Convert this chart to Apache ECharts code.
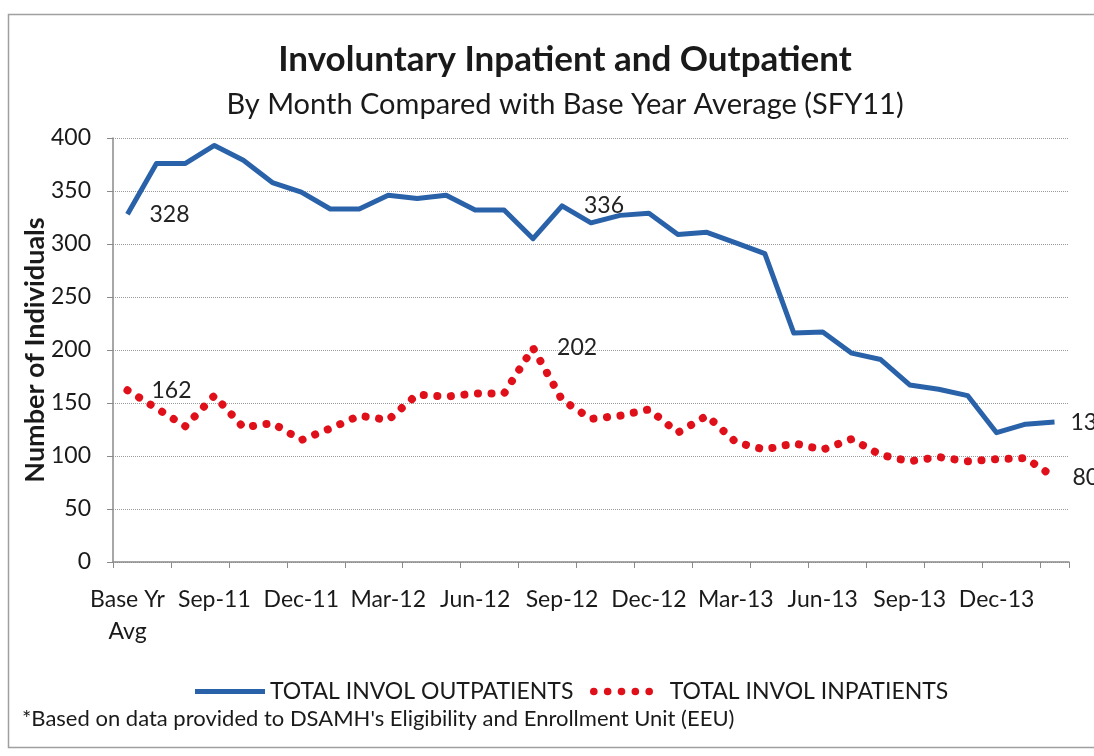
<!DOCTYPE html>
<html>
<head>
<meta charset="utf-8">
<script src="https://cdn.jsdelivr.net/npm/echarts@6/dist/echarts.min.js"></script>
<style>
html,body{margin:0;padding:0;background:#fff;}
#chart{width:1094px;height:756px;}
</style>
</head>
<body>
<div id="chart"></div>
<script>
var categories = ["Base Yr\nAvg",
  "Jul-11","Aug-11","Sep-11","Oct-11","Nov-11","Dec-11",
  "Jan-12","Feb-12","Mar-12","Apr-12","May-12","Jun-12",
  "Jul-12","Aug-12","Sep-12","Oct-12","Nov-12","Dec-12",
  "Jan-13","Feb-13","Mar-13","Apr-13","May-13","Jun-13",
  "Jul-13","Aug-13","Sep-13","Oct-13","Nov-13","Dec-13",
  "Jan-14","Feb-14"];
var outpatients = [328,376,376,393,379,358,349,333,333,346,343,346,332,332,305,336,320,327,329,309,311,301,291,216,217,197,191,167,163,157,122,130,132];
var inpatients = [162,145,128,157,127,131,115,126,138,134,158,156,159,159,202,153,135,138,144,122,138,113,106,112,106,116,101,95,99,95,97,98,80];
var outLabelIdx = [0,15,32];
var inLabelIdx = [0,14,32];
var yTicks = {min:0, max:400, interval:50};

var FONT = 'Lato, "Open Sans", sans-serif';
var BLUE = '#2A62AA', RED = '#E0101A';

function labelPoints(arr, idxs, dist){
  return {
    symbol:'circle', symbolSize:0, silent:true,
    label:{show:true, position:'right', distance:dist, fontSize:23, color:'#222', fontFamily:FONT,
           formatter:function(p){ return p.value; }},
    data: idxs.map(function(i){
      var d = {coord:[i, arr[i]], value:arr[i]};
      if (i === arr.length - 1) d.label = {distance:dist - 6};
      return d;
    })
  };
}

// legend icons
var blueIcon = 'path://M0,0 L70,0 L70,5 L0,5 Z';
var dots = '';
for (var k=0;k<5;k++){ var cx = 4 + k*14.5; dots += 'M'+(cx-4)+',4 a4,4 0 1,0 8,0 a4,4 0 1,0 -8,0 '; }
var redIcon = 'path://' + dots;
var legendText = {fontFamily:FONT, fontSize:23, color:'#1a1a1a'};

var chart = echarts.init(document.getElementById('chart'), null, {renderer:'canvas'});
chart.setOption({
  animation:false,
  backgroundColor:'#fff',
  title:[
    {text:'Involuntary Inpatient and Outpatient', left:560, top:37, textAlign:'center',
     textStyle:{fontFamily:FONT, fontSize:35, fontWeight:'bold', color:'#1a1a1a'}},
    {text:'By Month Compared with Base Year Average (SFY11)', left:560, top:85, textAlign:'center',
     textStyle:{fontFamily:FONT, fontSize:29, fontWeight:'normal', color:'#1a1a1a'}}
  ],
  graphic:[
    {type:'rect', shape:{x:8.5, y:14.5, width:1100, height:733}, style:{fill:'none', stroke:'#a0a0a0', lineWidth:1.5}, silent:true},
    {type:'text', left:22, top:708, style:{text:"*Based on data provided to DSAMH's Eligibility and Enrollment Unit (EEU)", fontFamily:FONT, fontSize:22, fill:'#1a1a1a'}}
  ],
  legend:[
    {top:675, left:190, padding:[5,5,5,5], itemWidth:70, itemHeight:5,
     textStyle:legendText,
     data:[{name:'TOTAL INVOL OUTPATIENTS', icon:blueIcon, itemStyle:{color:BLUE}}]},
    {top:675, left:585, padding:[5,5,5,5], itemWidth:63, itemHeight:8,
     textStyle:legendText, formatter:function(n){ return '  ' + n; },
     data:[{name:'TOTAL INVOL INPATIENTS', icon:redIcon, itemStyle:{color:RED}}]}
  ],
  grid:{left:113, right:25, top:138, bottom:194, containLabel:false},
  xAxis:{
    type:'category', data:categories, boundaryGap:true,
    axisLine:{lineStyle:{color:'#8a8a8a', width:1.5}},
    axisTick:{show:true, interval:1, length:6, lineStyle:{color:'#8a8a8a'}},
    axisLabel:{interval:2, fontFamily:FONT, fontSize:23, color:'#1a1a1a', margin:22, lineHeight:32}
  },
  yAxis:{
    type:'value', min:yTicks.min, max:yTicks.max, interval:yTicks.interval,
    name:'Number of Individuals', nameLocation:'middle', nameGap:64, nameMoveOverlap:false,
    nameTextStyle:{fontFamily:FONT, fontSize:27, fontWeight:'bold', color:'#1a1a1a'},
    axisLine:{show:true, lineStyle:{color:'#8a8a8a', width:1.5}},
    axisTick:{show:true, length:6, lineStyle:{color:'#8a8a8a'}},
    axisLabel:{fontFamily:FONT, fontSize:23, color:'#1a1a1a', margin:22},
    splitLine:{show:true, lineStyle:{color:'#9a9a9a', type:'dotted', width:1}}
  },
  series:[
    {name:'TOTAL INVOL OUTPATIENTS', type:'line', data:outpatients,
     symbol:'none', lineStyle:{color:BLUE, width:5, join:'round'}, itemStyle:{color:BLUE}, z:3,
     markPoint:labelPoints(outpatients, outLabelIdx, 22)},
    {name:'TOTAL INVOL INPATIENTS', type:'line', data:inpatients,
     symbol:'none', lineStyle:{color:RED, width:8, type:[0.1,13.5], cap:'round'}, itemStyle:{color:RED}, z:2,
     markPoint:labelPoints(inpatients, inLabelIdx, 24)}
  ]
});
</script>
</body>
</html>
